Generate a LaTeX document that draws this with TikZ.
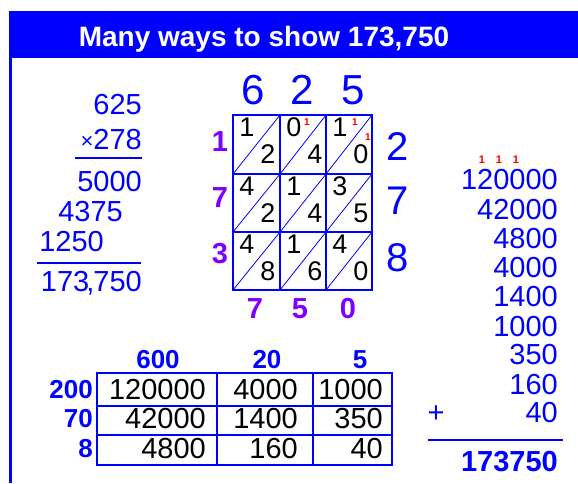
\documentclass[tikz,border=0pt]{standalone}
\usepackage{fontspec}
\setmainfont{Liberation Sans}
\usepackage{xcolor}
\definecolor{purebluex}{RGB}{0,0,255}
\definecolor{lattpurple}{RGB}{128,0,255}
\definecolor{carryred}{RGB}{255,0,0}

\begin{document}
\begin{tikzpicture}[x=1pt,y=-1pt,
  bignum/.style={text=purebluex, inner sep=0pt, font=\fontsize{42}{42}\selectfont},
  sidenum/.style={text=lattpurple, inner sep=0pt, font=\bfseries\fontsize{29}{29}\selectfont},
  cellnum/.style={text=black, inner sep=0pt, font=\fontsize{27}{27}\selectfont},
  carry/.style={text=carryred, inner sep=0pt, font=\bfseries\fontsize{10}{10}\selectfont},
  colnum/.style={text=purebluex, inner sep=0pt, anchor=east, font=\fontsize{29}{29}\selectfont},
  tabnum/.style={text=black, inner sep=0pt, anchor=east, font=\fontsize{29}{29}\selectfont},
  headnum/.style={text=purebluex, inner sep=0pt, font=\bfseries\fontsize{26}{26}\selectfont}]

\useasboundingbox (0,0) rectangle (578,483);

%% title bar and left border
\fill[purebluex] (9,11) rectangle (578,58);
\node[anchor=base, text=white, inner sep=0pt,
  font=\bfseries\fontsize{28}{28}\selectfont] (title) at (264,46) {Many ways to show 173,750};
\draw[purebluex, line width=2.5pt] (10.5,58) -- (10.5,483);

%% long multiplication on the left
\node[colnum] (m1) at (142,105) {625};
\node[colnum] (m2) at (142,140) {\fontsize{22}{22}\selectfont\raisebox{1pt}{×}\fontsize{29}{29}\selectfont278};
\draw[purebluex, line width=1.5pt] (75,158) -- (142,158);
\node[colnum] (p1) at (142,182) {5000};
\node[colnum] (p2) at (123,212) {4375};
\node[colnum] (p3) at (104,242) {1250};
\draw[purebluex, line width=1.5pt] (37,263) -- (141,263);
\node[colnum] (ans1) at (142,283) {173\kern-3pt,\kern-1pt750};

%% lattice grid
\draw[purebluex, line width=2pt] (233,115) rectangle (372,290);
\foreach \x in {280,326}
  \draw[purebluex, line width=2pt] (\x,115) -- (\x,290);
\foreach \y in {174,232}
  \draw[purebluex, line width=2pt] (233,\y) -- (372,\y);
% the diagonals of every cell
\foreach \x/\xx in {233/280,280/326,326/372}
  \foreach \y/\yy in {115/174,174/232,232/290}
    \draw[purebluex, line width=0.8pt] (\x,\yy) -- (\xx,\y);

% digits in the cells
\foreach \y/\ta/\ua/\tb/\ub/\tc/\uc in {115/1/2/0/4/1/0,174/4/2/1/4/3/5,232/4/8/1/6/4/0}
{
  \node[cellnum] (t1-\y) at ({233+14},{\y+12}) {\ta};
  \node[cellnum] (u1-\y) at ({233+35},{\y+39}) {\ua};
  \node[cellnum] (t2-\y) at ({280+14},{\y+12}) {\tb};
  \node[cellnum] (u2-\y) at ({280+35},{\y+39}) {\ub};
  \node[cellnum] (t3-\y) at ({326+14},{\y+12}) {\tc};
  \node[cellnum] (u3-\y) at ({326+35},{\y+39}) {\uc};
}

% carries
\node[carry] (c1) at (307,122) {1};
\node[carry] (c2) at (355,122) {1};
\node[carry] (c3) at (368,137) {1};

% factors round the lattice
\node[bignum] (f6) at (253,90) {6};
\node[bignum] (f2) at (302,90) {2};
\node[bignum] (f5) at (353,90) {5};
\node[bignum, font=\fontsize{40}{40}\selectfont] (g2) at (398,147) {2};
\node[bignum, font=\fontsize{40}{40}\selectfont] (g7) at (398,201) {7};
\node[bignum, font=\fontsize{40}{40}\selectfont] (g8) at (398,258) {8};

% result digits of the lattice
\node[sidenum] (s1) at (220,142) {1};
\node[sidenum] (s7) at (220,198) {7};
\node[sidenum] (s3) at (220,254) {3};
\node[sidenum] (b7) at (255,309) {7};
\node[sidenum] (b5) at (300,309) {5};
\node[sidenum] (b0) at (348,309) {0};

%% partial products on the right
\foreach \y/\val in {180/120000,210/42000,239/4800,268/4000,297/1400,327/1000,355/350,385/160,413/40}
  \node[colnum] (r\val) at (558,\y) {\val};
\foreach \x in {482,499,516}
  \node[carry, font=\bfseries\fontsize{11}{11}\selectfont] (rc\x) at (\x,160) {1};
\node[text=purebluex, inner sep=0pt, font=\fontsize{29}{29}\selectfont] (plus) at (436,414) {+};
\draw[purebluex, line width=1.5pt] (428,440) -- (563,440);
\node[colnum, font=\bfseries\fontsize{29}{29}\selectfont] (ans2) at (558,462) {173750};

%% area table at the bottom
\draw[purebluex, line width=1.3pt] (97,373) rectangle (392,465);
\foreach \x in {217,313}
  \draw[purebluex, line width=1.3pt] (\x,373) -- (\x,465);
\foreach \y in {406,435}
  \draw[purebluex, line width=1.3pt] (97,\y) -- (392,\y);

\node[headnum] (h600) at (158,360) {600};
\node[headnum] (h20) at (267,360) {20};
\node[headnum] (h5) at (360,360) {5};
\node[headnum, anchor=east] (v200) at (93,390) {200};
\node[headnum, anchor=east] (v70) at (93,419) {70};
\node[headnum, anchor=east] (v8) at (93,449) {8};

\foreach \y/\ca/\cb/\cc in {390/120000/4000/1000,419/42000/1400/350,449/4800/160/40}
{
  \node[tabnum] (a-\y) at (206,\y) {\ca};
  \node[tabnum] (b-\y) at (298,\y) {\cb};
  \node[tabnum] (d-\y) at (383,\y) {\cc};
}

\end{tikzpicture}
\end{document}
